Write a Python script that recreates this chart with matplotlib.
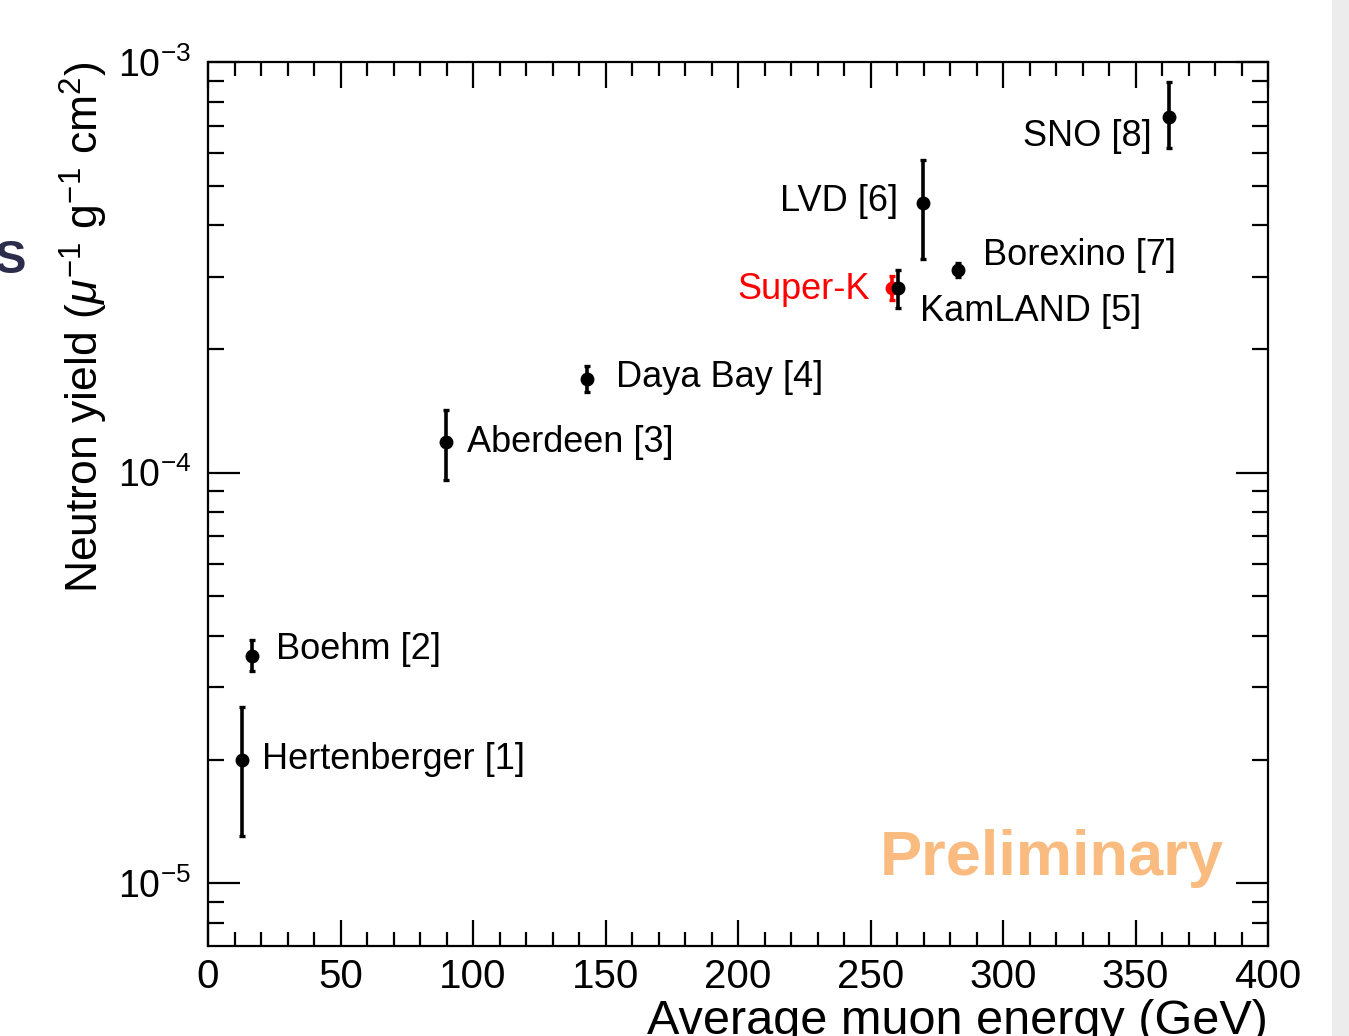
import math
import matplotlib.pyplot as plt
from matplotlib.patches import Rectangle
from matplotlib.ticker import LogLocator, MultipleLocator, FixedLocator, FuncFormatter

plt.rcParams['font.family'] = ['Liberation Sans', 'DejaVu Sans']
plt.rcParams['mathtext.fontset'] = 'custom'
plt.rcParams['mathtext.rm'] = 'Liberation Sans'
plt.rcParams['mathtext.it'] = 'Liberation Sans:italic'

# Datos: energia media del muon (GeV) y rendimiento de neutrones
experimentos = ["Hertenberger [1]", "Boehm [2]", "Aberdeen [3]", "Daya Bay [4]",
                "KamLAND [5]", "LVD [6]", "Borexino [7]", "SNO [8]"]
energia = [12.9, 16.5, 89.8, 143.0, 260.2, 269.9, 282.9, 362.8]
rendimiento = [2.00e-5, 3.58e-5, 1.19e-4, 1.69e-4, 2.81e-4, 4.53e-4, 3.11e-4, 7.35e-4]
err_sup = [2.69e-5, 3.91e-5, 1.42e-4, 1.82e-4, 3.11e-4, 5.77e-4, 3.24e-4, 8.94e-4]
err_inf = [1.30e-5, 3.28e-5, 9.6e-5, 1.57e-4, 2.52e-4, 3.31e-4, 2.99e-4, 6.17e-4]

# Super-K (preliminar)
sk_energia = 258.1
sk_rendimiento = 2.82e-4
sk_sup = 3.01e-4
sk_inf = 2.63e-4

# posiciones de las etiquetas (x, y, alineacion)
etiquetas = [(20.4, 2.0e-5, 'left'), (25.7, 3.70e-5, 'left'), (97.7, 1.186e-4, 'left'),
             (153.9, 1.70e-4, 'left'), (268.7, 2.47e-4, 'left'), (260.4, 4.56e-4, 'right'),
             (292.5, 3.37e-4, 'left'), (356.2, 6.6e-4, 'right')]

fig = plt.figure(figsize=(13.49, 10.36), dpi=100)
ax = fig.add_axes([0.1542, 0.0869, 0.7858, 0.8533])

yerr = [[r - l for r, l in zip(rendimiento, err_inf)],
        [u - r for r, u in zip(rendimiento, err_sup)]]
ax.errorbar(energia, rendimiento, yerr=yerr, fmt='o', color='black', ms=9,
            elinewidth=2.6, capsize=2.5, capthick=2.4, zorder=3)
ax.errorbar([sk_energia], [sk_rendimiento],
            yerr=[[sk_rendimiento - sk_inf], [sk_sup - sk_rendimiento]],
            fmt='o', color='red', ms=9, elinewidth=2.6, capsize=2.5, capthick=2.4, zorder=2)

for nombre, (tx, ty, ha) in zip(experimentos, etiquetas):
    ax.text(tx, ty, nombre, fontsize=26, ha=ha, va='center')
ax.text(249.8, 2.79e-4, "Super-K", fontsize=26, color='red', ha='right', va='center')
ax.text(383.4, 1.15e-5, "Preliminary", fontsize=45.5, fontweight='bold', color='#f9bb7f',
        ha='right', va='center')

ax.set_yscale('log')
ax.set_xlim(0, 400)
ax.set_ylim(7.03e-6, 1e-3)

ax.xaxis.set_major_locator(MultipleLocator(50))
ax.xaxis.set_minor_locator(MultipleLocator(10))
ax.yaxis.set_major_locator(FixedLocator([1e-5, 1e-4, 1e-3]))
ax.yaxis.set_minor_locator(LogLocator(base=10, subs=range(2, 10)))
ax.yaxis.set_major_formatter(FuncFormatter(lambda v, p: r'$10^{%d}$' % round(math.log10(v))))
ax.yaxis.set_minor_formatter(FuncFormatter(lambda v, p: ''))

ax.tick_params(which='both', direction='in', top=True, right=True, width=1.6,
               labelsize=29, colors='black')
ax.tick_params(axis='x', which='major', length=19, pad=9)
ax.tick_params(axis='x', which='minor', length=10)
ax.tick_params(axis='y', which='major', length=23, pad=12, labelsize=27)
ax.tick_params(axis='y', which='minor', length=11.5)
for s in ax.spines.values():
    s.set_linewidth(1.6)

ax.set_xlabel("Average muon energy (GeV)", fontsize=35, loc='right', labelpad=2)
ax.set_ylabel(r"Neutron yield ($\mu^{-1}$ g$^{-1}$ cm$^{2}$)", fontsize=32, loc='top', labelpad=6)

# restos del marco de la diapositiva
fig.text(-0.004, 0.748, "S", fontsize=34, fontweight='bold', color='#2b2d4b', ha='left', va='center')
fig.patches.append(Rectangle((0.9875, 0), 0.0125, 1, transform=fig.transFigure,
                             facecolor='#ececec', edgecolor='none'))

fig.savefig('out.png', dpi=100)
